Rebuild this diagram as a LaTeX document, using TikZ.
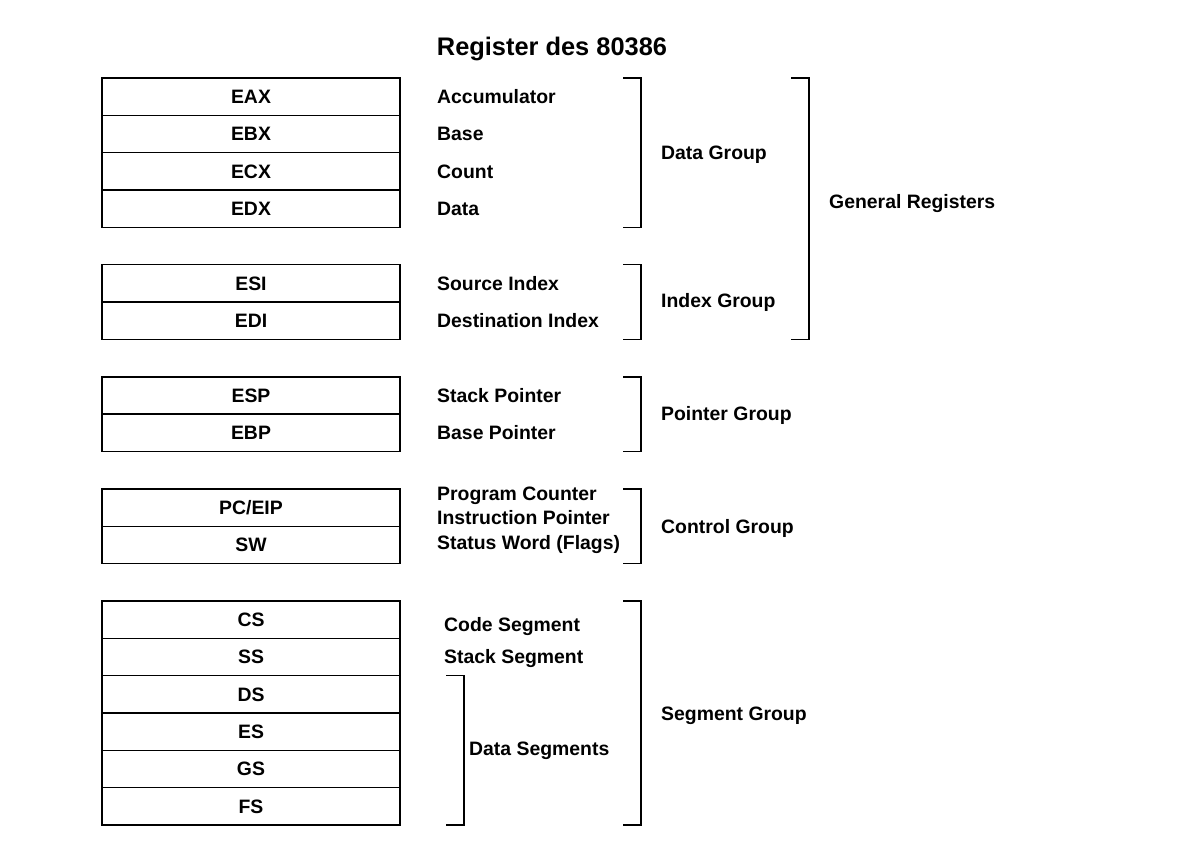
\documentclass[tikz,border=0pt]{standalone}
\usepackage{fontspec}
\setmainfont{Liberation Sans}
\begin{document}
\begin{tikzpicture}[x=1pt,y=-1pt,
  reg/.style={draw, line width=1.4pt, minimum width=298pt, minimum height=37.35pt,
    inner sep=0pt, text height=13.9pt, text depth=0pt,
    font=\bfseries\fontsize{19.4}{22}\selectfont},
  lbl/.style={anchor=west, inner sep=0pt, text height=13.9pt, text depth=0pt,
    font=\bfseries\fontsize{19.4}{22}\selectfont},
  ttl/.style={inner sep=0pt, text height=18.2pt, text depth=0pt,
    font=\bfseries\fontsize{25.4}{28}\selectfont},
  brk/.style={line width=1.4pt}]
\useasboundingbox (0,0) rectangle (1184,851);

\node[ttl] (title) at (552,46) {Register des 80386};

% register boxes
\foreach \n/\t/\k in {eax/EAX/0, ebx/EBX/1, ecx/ECX/2, edx/EDX/3,
  esi/ESI/5, edi/EDI/6, esp/ESP/8, ebp/EBP/9, pc/PC\slash EIP/11, sw/SW/12,
  cs/CS/14, ss/SS/15, ds/DS/16, es/ES/17, gs/GS/18, fs/FS/19}
  \node[reg] (\n) at (251, {78+37.35*\k+18.675}) {\t};

% descriptions
\node[lbl] (d-eax) at (437, 96.7) {Accumulator};
\node[lbl] (d-ebx) at (437, 134) {Base};
\node[lbl] (d-ecx) at (437, 171.4) {Count};
\node[lbl] (d-edx) at (437, 208.7) {Data};
\node[lbl] (d-esi) at (437, 283.4) {Source Index};
\node[lbl] (d-edi) at (437, 320.7) {Destination Index};
\node[lbl] (d-esp) at (437, 395.4) {Stack Pointer};
\node[lbl] (d-ebp) at (437, 432.7) {Base Pointer};
\node[lbl] (d-pc1) at (437, 494) {Program Counter};
\node[lbl] (d-pc2) at (437, 518) {Instruction Pointer};
\node[lbl] (d-sw) at (437, 542.5) {Status Word (Flags)};
\node[lbl] (d-cs) at (444, 624.5) {Code Segment};
\node[lbl] (d-ss) at (444, 657) {Stack Segment};
\node[lbl] (d-dseg) at (469, 749) {Data Segments};

% group labels
\node[lbl] (g-data) at (661, 152.5) {Data Group};
\node[lbl] (g-index) at (661, 301) {Index Group};
\node[lbl] (g-ptr) at (661, 413.5) {Pointer Group};
\node[lbl] (g-ctrl) at (661, 526.5) {Control Group};
\node[lbl] (g-seg) at (661, 714) {Segment Group};
\node[lbl] (g-gen) at (829, 202) {General Registers};

% brackets
\coordinate (b-data-t) at (623, 78);   \coordinate (b-data-b) at (623, 227.4);
\coordinate (b-idx-t) at (623, 264.75); \coordinate (b-idx-b) at (623, 339.45);
\coordinate (b-ptr-t) at (623, 376.8); \coordinate (b-ptr-b) at (623, 451.5);
\coordinate (b-ctl-t) at (623, 488.85); \coordinate (b-ctl-b) at (623, 563.55);
\coordinate (b-seg-t) at (623, 600.9); \coordinate (b-seg-b) at (623, 825);
\coordinate (b-gen-t) at (791, 78);    \coordinate (b-gen-b) at (791, 339.45);
\coordinate (b-ds-t) at (446, 675.6);  \coordinate (b-ds-b) at (446, 825);

\foreach \b in {data, idx, ptr, ctl, seg, gen, ds}
  \draw[brk] (b-\b-t) -- ++(18,0) |- (b-\b-b);
\end{tikzpicture}
\end{document}
